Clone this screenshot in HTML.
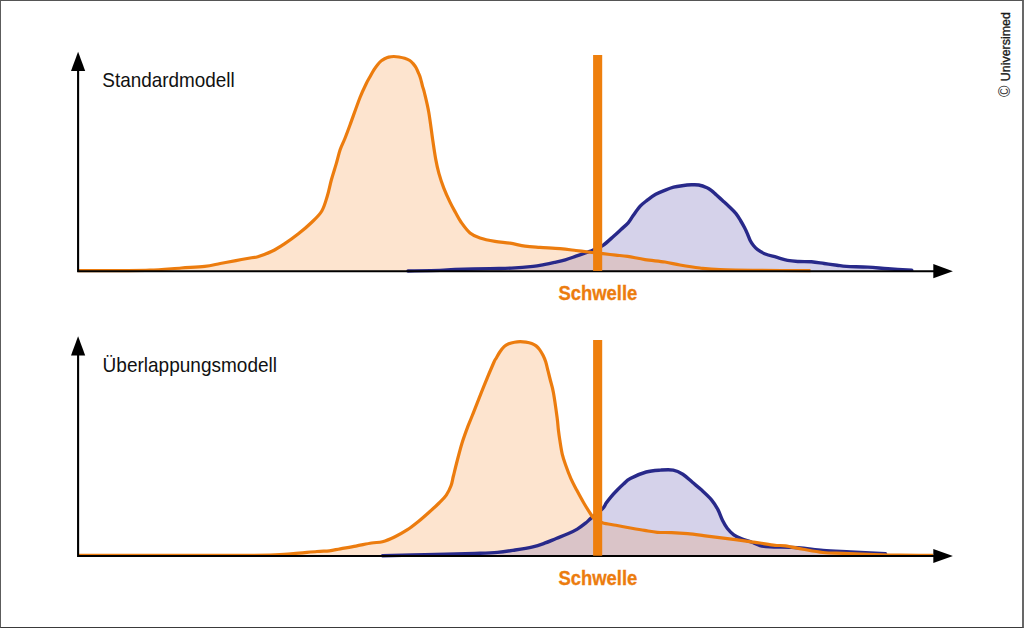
<!DOCTYPE html>
<html lang="de">
<head>
<meta charset="utf-8">
<title>Standardmodell / Überlappungsmodell</title>
<style>
  html, body { margin: 0; padding: 0; background: #ffffff; }
  body { width: 1024px; height: 628px; overflow: hidden; position: relative;
         font-family: "Liberation Sans", sans-serif; }
  .frame { position: absolute; left: 0; top: 0; width: 1024px; height: 628px;
           box-sizing: border-box;
           border-top: 1px solid #555555; border-left: 1px solid #5c5c5c;
           border-right: 2px solid #686868; border-bottom: 1px solid #3a3a3a; }
  svg { position: absolute; left: 0; top: 0; display: block; }
  text { font-family: "Liberation Sans", sans-serif; }
  .lbl { font-size: 21px; fill: #111111; }
  .thr { font-size: 19.6px; font-weight: bold; fill: #ec7c0e; stroke: #ec7c0e; stroke-width: 0.3px; }
  .cr  { font-size: 13.3px; fill: #1a1a1a; stroke: #1a1a1a; stroke-width: 0.35px; }
  .crc { font-size: 15.6px; fill: #2a2a2a; }
</style>
</head>
<body>
<svg width="1024" height="628" viewBox="0 0 1024 628">

  <!-- ================= top chart: Standardmodell ================= -->
  <g>
    <path d="M78.00,270.55 C85.00,270.55 108.00,270.61 120.00,270.55 C132.00,270.49 139.78,270.62 150.00,270.20 C160.22,269.77 172.18,268.63 181.30,268.00 C190.42,267.37 198.20,267.15 204.70,266.40 C211.20,265.65 215.10,264.47 220.30,263.50 C225.50,262.53 230.68,261.57 235.90,260.60 C241.12,259.63 247.95,258.33 251.60,257.70 C255.25,257.07 254.42,257.87 257.80,256.80 C261.18,255.73 267.47,253.45 271.90,251.30 C276.33,249.15 279.98,246.82 284.40,243.90 C288.82,240.98 293.88,237.37 298.40,233.80 C302.92,230.23 307.60,226.30 311.50,222.50 C315.40,218.70 319.15,215.47 321.80,211.00 C324.45,206.53 325.80,200.90 327.40,195.70 C329.00,190.50 329.93,185.10 331.40,179.80 C332.87,174.50 334.73,168.93 336.20,163.90 C337.67,158.87 338.75,153.83 340.20,149.60 C341.65,145.37 343.27,142.60 344.90,138.50 C346.53,134.40 347.48,131.83 350.00,125.00 C352.52,118.17 357.28,104.42 360.00,97.50 C362.72,90.58 364.58,87.05 366.30,83.50 C368.02,79.95 369.03,78.47 370.30,76.20 C371.57,73.93 372.68,71.82 373.90,69.90 C375.12,67.98 376.38,66.20 377.60,64.70 C378.82,63.20 380.03,61.90 381.20,60.90 C382.37,59.90 383.35,59.33 384.60,58.70 C385.85,58.07 387.17,57.47 388.70,57.10 C390.23,56.73 392.10,56.52 393.80,56.50 C395.50,56.48 397.08,56.70 398.90,57.00 C400.72,57.30 402.88,57.72 404.70,58.30 C406.52,58.88 408.43,59.65 409.80,60.50 C411.17,61.35 411.85,62.18 412.90,63.40 C413.95,64.62 415.13,66.12 416.10,67.80 C417.07,69.48 417.95,71.70 418.70,73.50 C419.45,75.30 419.97,76.48 420.60,78.60 C421.23,80.72 421.85,83.80 422.50,86.20 C423.15,88.60 423.45,88.62 424.50,93.00 C425.55,97.38 427.42,104.58 428.80,112.50 C430.18,120.42 431.65,132.73 432.80,140.50 C433.95,148.27 434.68,153.62 435.70,159.10 C436.72,164.58 437.57,168.62 438.90,173.40 C440.23,178.18 441.85,183.02 443.70,187.80 C445.55,192.58 448.03,197.98 450.00,202.10 C451.97,206.22 453.62,209.10 455.50,212.50 C457.38,215.90 458.88,219.08 461.30,222.50 C463.72,225.92 466.88,230.42 470.00,233.00 C473.12,235.58 475.83,236.60 480.00,238.00 C484.17,239.40 490.00,240.53 495.00,241.40 C500.00,242.27 505.00,242.42 510.00,243.20 C515.00,243.98 520.00,245.40 525.00,246.10 C530.00,246.80 534.17,246.97 540.00,247.40 C545.83,247.83 554.02,248.18 560.00,248.70 C565.98,249.22 570.60,249.87 575.90,250.50 C581.20,251.13 587.28,251.97 591.80,252.50 C596.32,253.03 599.02,253.27 603.00,253.70 C606.98,254.13 611.58,254.65 615.70,255.10 C619.82,255.55 622.82,255.65 627.70,256.40 C632.58,257.15 638.78,258.67 645.00,259.60 C651.22,260.53 659.17,261.10 665.00,262.00 C670.83,262.90 674.17,264.00 680.00,265.00 C685.83,266.00 693.33,267.22 700.00,268.00 C706.67,268.78 710.00,269.30 720.00,269.70 C730.00,270.10 744.92,270.26 760.00,270.40 C775.08,270.54 802.08,270.52 810.50,270.55 L810.50,271.20 L78.00,271.20 Z" fill="#fde4cf"/>
    <path d="M408.00,271.00 C413.33,270.90 432.17,270.65 440.00,270.40 C447.83,270.15 446.67,269.80 455.00,269.50 C463.33,269.20 480.58,268.83 490.00,268.60 C499.42,268.37 504.33,268.47 511.50,268.10 C518.67,267.73 527.62,266.98 533.00,266.40 C538.38,265.82 540.22,265.27 543.80,264.60 C547.38,263.93 550.92,263.20 554.50,262.40 C558.08,261.60 561.72,260.83 565.30,259.80 C568.88,258.77 572.42,257.43 576.00,256.20 C579.58,254.97 584.02,253.40 586.80,252.40 C589.58,251.40 590.00,251.38 592.70,250.20 C595.40,249.02 599.47,247.67 603.00,245.30 C606.53,242.93 610.90,238.63 613.90,236.00 C616.90,233.37 618.62,231.70 621.00,229.50 C623.38,227.30 626.20,225.08 628.20,222.80 C630.20,220.52 631.00,218.57 633.00,215.80 C635.00,213.03 637.82,208.80 640.20,206.20 C642.58,203.60 644.72,202.18 647.30,200.20 C649.88,198.22 652.70,195.98 655.70,194.30 C658.70,192.62 662.32,191.28 665.30,190.10 C668.28,188.92 670.82,187.93 673.60,187.20 C676.38,186.47 679.02,186.10 682.00,185.70 C684.98,185.30 688.72,184.92 691.50,184.80 C694.28,184.68 696.12,184.52 698.70,185.00 C701.28,185.48 704.87,186.77 707.00,187.70 C709.13,188.63 709.97,189.42 711.50,190.60 C713.03,191.78 714.37,193.15 716.20,194.80 C718.03,196.45 720.37,198.55 722.50,200.50 C724.63,202.45 726.78,204.35 729.00,206.50 C731.22,208.65 733.88,211.07 735.80,213.40 C737.72,215.73 739.03,218.10 740.50,220.50 C741.97,222.90 743.43,225.55 744.60,227.80 C745.77,230.05 746.57,231.88 747.50,234.00 C748.43,236.12 749.23,238.62 750.20,240.50 C751.17,242.38 752.12,243.83 753.30,245.30 C754.48,246.77 755.30,247.85 757.30,249.30 C759.30,250.75 762.12,252.68 765.30,254.00 C768.48,255.32 772.68,256.13 776.40,257.20 C780.12,258.27 783.88,259.68 787.60,260.40 C791.32,261.12 794.72,261.27 798.70,261.50 C802.68,261.73 807.25,261.47 811.50,261.80 C815.75,262.13 819.97,262.93 824.20,263.50 C828.43,264.07 833.18,264.72 836.90,265.20 C840.62,265.68 841.32,266.08 846.50,266.40 C851.68,266.72 861.08,266.70 868.00,267.10 C874.92,267.50 880.70,268.27 888.00,268.80 C895.30,269.33 907.83,270.05 911.80,270.30 L911.80,271.20 L408.00,271.20 Z" fill="#d5d2ea"/>
    <clipPath id="clipTopOrange"><path d="M78.00,270.55 C85.00,270.55 108.00,270.61 120.00,270.55 C132.00,270.49 139.78,270.62 150.00,270.20 C160.22,269.77 172.18,268.63 181.30,268.00 C190.42,267.37 198.20,267.15 204.70,266.40 C211.20,265.65 215.10,264.47 220.30,263.50 C225.50,262.53 230.68,261.57 235.90,260.60 C241.12,259.63 247.95,258.33 251.60,257.70 C255.25,257.07 254.42,257.87 257.80,256.80 C261.18,255.73 267.47,253.45 271.90,251.30 C276.33,249.15 279.98,246.82 284.40,243.90 C288.82,240.98 293.88,237.37 298.40,233.80 C302.92,230.23 307.60,226.30 311.50,222.50 C315.40,218.70 319.15,215.47 321.80,211.00 C324.45,206.53 325.80,200.90 327.40,195.70 C329.00,190.50 329.93,185.10 331.40,179.80 C332.87,174.50 334.73,168.93 336.20,163.90 C337.67,158.87 338.75,153.83 340.20,149.60 C341.65,145.37 343.27,142.60 344.90,138.50 C346.53,134.40 347.48,131.83 350.00,125.00 C352.52,118.17 357.28,104.42 360.00,97.50 C362.72,90.58 364.58,87.05 366.30,83.50 C368.02,79.95 369.03,78.47 370.30,76.20 C371.57,73.93 372.68,71.82 373.90,69.90 C375.12,67.98 376.38,66.20 377.60,64.70 C378.82,63.20 380.03,61.90 381.20,60.90 C382.37,59.90 383.35,59.33 384.60,58.70 C385.85,58.07 387.17,57.47 388.70,57.10 C390.23,56.73 392.10,56.52 393.80,56.50 C395.50,56.48 397.08,56.70 398.90,57.00 C400.72,57.30 402.88,57.72 404.70,58.30 C406.52,58.88 408.43,59.65 409.80,60.50 C411.17,61.35 411.85,62.18 412.90,63.40 C413.95,64.62 415.13,66.12 416.10,67.80 C417.07,69.48 417.95,71.70 418.70,73.50 C419.45,75.30 419.97,76.48 420.60,78.60 C421.23,80.72 421.85,83.80 422.50,86.20 C423.15,88.60 423.45,88.62 424.50,93.00 C425.55,97.38 427.42,104.58 428.80,112.50 C430.18,120.42 431.65,132.73 432.80,140.50 C433.95,148.27 434.68,153.62 435.70,159.10 C436.72,164.58 437.57,168.62 438.90,173.40 C440.23,178.18 441.85,183.02 443.70,187.80 C445.55,192.58 448.03,197.98 450.00,202.10 C451.97,206.22 453.62,209.10 455.50,212.50 C457.38,215.90 458.88,219.08 461.30,222.50 C463.72,225.92 466.88,230.42 470.00,233.00 C473.12,235.58 475.83,236.60 480.00,238.00 C484.17,239.40 490.00,240.53 495.00,241.40 C500.00,242.27 505.00,242.42 510.00,243.20 C515.00,243.98 520.00,245.40 525.00,246.10 C530.00,246.80 534.17,246.97 540.00,247.40 C545.83,247.83 554.02,248.18 560.00,248.70 C565.98,249.22 570.60,249.87 575.90,250.50 C581.20,251.13 587.28,251.97 591.80,252.50 C596.32,253.03 599.02,253.27 603.00,253.70 C606.98,254.13 611.58,254.65 615.70,255.10 C619.82,255.55 622.82,255.65 627.70,256.40 C632.58,257.15 638.78,258.67 645.00,259.60 C651.22,260.53 659.17,261.10 665.00,262.00 C670.83,262.90 674.17,264.00 680.00,265.00 C685.83,266.00 693.33,267.22 700.00,268.00 C706.67,268.78 710.00,269.30 720.00,269.70 C730.00,270.10 744.92,270.26 760.00,270.40 C775.08,270.54 802.08,270.52 810.50,270.55 L810.50,271.20 L78.00,271.20 Z"/></clipPath>
    <path d="M408.00,271.00 C413.33,270.90 432.17,270.65 440.00,270.40 C447.83,270.15 446.67,269.80 455.00,269.50 C463.33,269.20 480.58,268.83 490.00,268.60 C499.42,268.37 504.33,268.47 511.50,268.10 C518.67,267.73 527.62,266.98 533.00,266.40 C538.38,265.82 540.22,265.27 543.80,264.60 C547.38,263.93 550.92,263.20 554.50,262.40 C558.08,261.60 561.72,260.83 565.30,259.80 C568.88,258.77 572.42,257.43 576.00,256.20 C579.58,254.97 584.02,253.40 586.80,252.40 C589.58,251.40 590.00,251.38 592.70,250.20 C595.40,249.02 599.47,247.67 603.00,245.30 C606.53,242.93 610.90,238.63 613.90,236.00 C616.90,233.37 618.62,231.70 621.00,229.50 C623.38,227.30 626.20,225.08 628.20,222.80 C630.20,220.52 631.00,218.57 633.00,215.80 C635.00,213.03 637.82,208.80 640.20,206.20 C642.58,203.60 644.72,202.18 647.30,200.20 C649.88,198.22 652.70,195.98 655.70,194.30 C658.70,192.62 662.32,191.28 665.30,190.10 C668.28,188.92 670.82,187.93 673.60,187.20 C676.38,186.47 679.02,186.10 682.00,185.70 C684.98,185.30 688.72,184.92 691.50,184.80 C694.28,184.68 696.12,184.52 698.70,185.00 C701.28,185.48 704.87,186.77 707.00,187.70 C709.13,188.63 709.97,189.42 711.50,190.60 C713.03,191.78 714.37,193.15 716.20,194.80 C718.03,196.45 720.37,198.55 722.50,200.50 C724.63,202.45 726.78,204.35 729.00,206.50 C731.22,208.65 733.88,211.07 735.80,213.40 C737.72,215.73 739.03,218.10 740.50,220.50 C741.97,222.90 743.43,225.55 744.60,227.80 C745.77,230.05 746.57,231.88 747.50,234.00 C748.43,236.12 749.23,238.62 750.20,240.50 C751.17,242.38 752.12,243.83 753.30,245.30 C754.48,246.77 755.30,247.85 757.30,249.30 C759.30,250.75 762.12,252.68 765.30,254.00 C768.48,255.32 772.68,256.13 776.40,257.20 C780.12,258.27 783.88,259.68 787.60,260.40 C791.32,261.12 794.72,261.27 798.70,261.50 C802.68,261.73 807.25,261.47 811.50,261.80 C815.75,262.13 819.97,262.93 824.20,263.50 C828.43,264.07 833.18,264.72 836.90,265.20 C840.62,265.68 841.32,266.08 846.50,266.40 C851.68,266.72 861.08,266.70 868.00,267.10 C874.92,267.50 880.70,268.27 888.00,268.80 C895.30,269.33 907.83,270.05 911.80,270.30 L911.80,271.20 L408.00,271.20 Z" fill="#dac4c8" clip-path="url(#clipTopOrange)"/>
    <path d="M408.00,271.00 C413.33,270.90 432.17,270.65 440.00,270.40 C447.83,270.15 446.67,269.80 455.00,269.50 C463.33,269.20 480.58,268.83 490.00,268.60 C499.42,268.37 504.33,268.47 511.50,268.10 C518.67,267.73 527.62,266.98 533.00,266.40 C538.38,265.82 540.22,265.27 543.80,264.60 C547.38,263.93 550.92,263.20 554.50,262.40 C558.08,261.60 561.72,260.83 565.30,259.80 C568.88,258.77 572.42,257.43 576.00,256.20 C579.58,254.97 584.02,253.40 586.80,252.40 C589.58,251.40 590.00,251.38 592.70,250.20 C595.40,249.02 599.47,247.67 603.00,245.30 C606.53,242.93 610.90,238.63 613.90,236.00 C616.90,233.37 618.62,231.70 621.00,229.50 C623.38,227.30 626.20,225.08 628.20,222.80 C630.20,220.52 631.00,218.57 633.00,215.80 C635.00,213.03 637.82,208.80 640.20,206.20 C642.58,203.60 644.72,202.18 647.30,200.20 C649.88,198.22 652.70,195.98 655.70,194.30 C658.70,192.62 662.32,191.28 665.30,190.10 C668.28,188.92 670.82,187.93 673.60,187.20 C676.38,186.47 679.02,186.10 682.00,185.70 C684.98,185.30 688.72,184.92 691.50,184.80 C694.28,184.68 696.12,184.52 698.70,185.00 C701.28,185.48 704.87,186.77 707.00,187.70 C709.13,188.63 709.97,189.42 711.50,190.60 C713.03,191.78 714.37,193.15 716.20,194.80 C718.03,196.45 720.37,198.55 722.50,200.50 C724.63,202.45 726.78,204.35 729.00,206.50 C731.22,208.65 733.88,211.07 735.80,213.40 C737.72,215.73 739.03,218.10 740.50,220.50 C741.97,222.90 743.43,225.55 744.60,227.80 C745.77,230.05 746.57,231.88 747.50,234.00 C748.43,236.12 749.23,238.62 750.20,240.50 C751.17,242.38 752.12,243.83 753.30,245.30 C754.48,246.77 755.30,247.85 757.30,249.30 C759.30,250.75 762.12,252.68 765.30,254.00 C768.48,255.32 772.68,256.13 776.40,257.20 C780.12,258.27 783.88,259.68 787.60,260.40 C791.32,261.12 794.72,261.27 798.70,261.50 C802.68,261.73 807.25,261.47 811.50,261.80 C815.75,262.13 819.97,262.93 824.20,263.50 C828.43,264.07 833.18,264.72 836.90,265.20 C840.62,265.68 841.32,266.08 846.50,266.40 C851.68,266.72 861.08,266.70 868.00,267.10 C874.92,267.50 880.70,268.27 888.00,268.80 C895.30,269.33 907.83,270.05 911.80,270.30" fill="none" stroke="#28298a" stroke-width="3.4" stroke-linejoin="round" stroke-linecap="round"/>
    <path d="M78.00,270.55 C85.00,270.55 108.00,270.61 120.00,270.55 C132.00,270.49 139.78,270.62 150.00,270.20 C160.22,269.77 172.18,268.63 181.30,268.00 C190.42,267.37 198.20,267.15 204.70,266.40 C211.20,265.65 215.10,264.47 220.30,263.50 C225.50,262.53 230.68,261.57 235.90,260.60 C241.12,259.63 247.95,258.33 251.60,257.70 C255.25,257.07 254.42,257.87 257.80,256.80 C261.18,255.73 267.47,253.45 271.90,251.30 C276.33,249.15 279.98,246.82 284.40,243.90 C288.82,240.98 293.88,237.37 298.40,233.80 C302.92,230.23 307.60,226.30 311.50,222.50 C315.40,218.70 319.15,215.47 321.80,211.00 C324.45,206.53 325.80,200.90 327.40,195.70 C329.00,190.50 329.93,185.10 331.40,179.80 C332.87,174.50 334.73,168.93 336.20,163.90 C337.67,158.87 338.75,153.83 340.20,149.60 C341.65,145.37 343.27,142.60 344.90,138.50 C346.53,134.40 347.48,131.83 350.00,125.00 C352.52,118.17 357.28,104.42 360.00,97.50 C362.72,90.58 364.58,87.05 366.30,83.50 C368.02,79.95 369.03,78.47 370.30,76.20 C371.57,73.93 372.68,71.82 373.90,69.90 C375.12,67.98 376.38,66.20 377.60,64.70 C378.82,63.20 380.03,61.90 381.20,60.90 C382.37,59.90 383.35,59.33 384.60,58.70 C385.85,58.07 387.17,57.47 388.70,57.10 C390.23,56.73 392.10,56.52 393.80,56.50 C395.50,56.48 397.08,56.70 398.90,57.00 C400.72,57.30 402.88,57.72 404.70,58.30 C406.52,58.88 408.43,59.65 409.80,60.50 C411.17,61.35 411.85,62.18 412.90,63.40 C413.95,64.62 415.13,66.12 416.10,67.80 C417.07,69.48 417.95,71.70 418.70,73.50 C419.45,75.30 419.97,76.48 420.60,78.60 C421.23,80.72 421.85,83.80 422.50,86.20 C423.15,88.60 423.45,88.62 424.50,93.00 C425.55,97.38 427.42,104.58 428.80,112.50 C430.18,120.42 431.65,132.73 432.80,140.50 C433.95,148.27 434.68,153.62 435.70,159.10 C436.72,164.58 437.57,168.62 438.90,173.40 C440.23,178.18 441.85,183.02 443.70,187.80 C445.55,192.58 448.03,197.98 450.00,202.10 C451.97,206.22 453.62,209.10 455.50,212.50 C457.38,215.90 458.88,219.08 461.30,222.50 C463.72,225.92 466.88,230.42 470.00,233.00 C473.12,235.58 475.83,236.60 480.00,238.00 C484.17,239.40 490.00,240.53 495.00,241.40 C500.00,242.27 505.00,242.42 510.00,243.20 C515.00,243.98 520.00,245.40 525.00,246.10 C530.00,246.80 534.17,246.97 540.00,247.40 C545.83,247.83 554.02,248.18 560.00,248.70 C565.98,249.22 570.60,249.87 575.90,250.50 C581.20,251.13 587.28,251.97 591.80,252.50 C596.32,253.03 599.02,253.27 603.00,253.70 C606.98,254.13 611.58,254.65 615.70,255.10 C619.82,255.55 622.82,255.65 627.70,256.40 C632.58,257.15 638.78,258.67 645.00,259.60 C651.22,260.53 659.17,261.10 665.00,262.00 C670.83,262.90 674.17,264.00 680.00,265.00 C685.83,266.00 693.33,267.22 700.00,268.00 C706.67,268.78 710.00,269.30 720.00,269.70 C730.00,270.10 744.92,270.26 760.00,270.40 C775.08,270.54 802.08,270.52 810.50,270.55" fill="none" stroke="#ec7c0e" stroke-width="3.2" stroke-linejoin="round" stroke-linecap="butt"/>
    <!-- axes -->
    <path d="M78.1,68 L78.1,271.2 L935,271.2" fill="none" stroke="#000" stroke-width="2.1" stroke-linejoin="miter"/>
    <path d="M78.1,51.8 L85.2,71.1 L71,71.1 Z" fill="#000"/>
    <path d="M952.9,271.20 L933.3,264.05 L933.3,278.35 Z" fill="#000"/>
    <rect x="593.1" y="55" width="9.1" height="215.9" fill="#ee7f0d"/>
    <text class="lbl" x="102.3" y="87.3" textLength="132.4" lengthAdjust="spacingAndGlyphs">Standardmodell</text>
    <text class="thr" x="558.4" y="299.9" textLength="79" lengthAdjust="spacingAndGlyphs">Schwelle</text>
  </g>

  <!-- ================= bottom chart: Überlappungsmodell ================= -->
  <g>
    <path d="M78.00,555.35 C98.33,555.35 168.00,555.39 200.00,555.35 C232.00,555.31 254.43,555.39 270.00,555.10 C285.57,554.81 285.58,554.20 293.40,553.60 C301.22,553.00 310.90,551.97 316.90,551.50 C322.90,551.03 325.50,551.25 329.40,550.80 C333.30,550.35 335.88,549.58 340.30,548.80 C344.72,548.02 350.68,547.07 355.90,546.10 C361.12,545.13 367.17,543.73 371.60,543.00 C376.03,542.27 378.60,542.75 382.50,541.70 C386.40,540.65 390.83,538.70 395.00,536.70 C399.17,534.70 403.60,532.23 407.50,529.70 C411.40,527.17 414.72,524.48 418.40,521.50 C422.08,518.52 426.15,514.88 429.60,511.80 C433.05,508.72 436.32,505.78 439.10,503.00 C441.88,500.22 444.30,498.02 446.30,495.10 C448.30,492.18 449.92,488.68 451.10,485.50 C452.28,482.32 452.35,480.25 453.40,476.00 C454.45,471.75 455.93,465.58 457.40,460.00 C458.87,454.42 460.47,448.07 462.20,442.50 C463.93,436.93 466.08,431.18 467.80,426.60 C469.52,422.02 469.83,421.72 472.50,415.00 C475.17,408.28 480.25,395.05 483.80,386.30 C487.35,377.55 491.77,367.13 493.80,362.50 C495.83,357.87 495.00,360.25 496.00,358.50 C497.00,356.75 498.45,353.98 499.80,352.00 C501.15,350.02 502.62,347.97 504.10,346.60 C505.58,345.23 506.97,344.53 508.70,343.80 C510.43,343.07 512.58,342.55 514.50,342.20 C516.42,341.85 518.30,341.70 520.20,341.70 C522.10,341.70 523.98,341.88 525.90,342.20 C527.82,342.52 530.00,342.98 531.70,343.60 C533.40,344.22 534.78,344.90 536.10,345.90 C537.42,346.90 538.45,348.03 539.60,349.60 C540.75,351.17 541.98,353.28 543.00,355.30 C544.02,357.32 544.85,359.05 545.70,361.70 C546.55,364.35 547.33,368.15 548.10,371.20 C548.87,374.25 549.42,376.45 550.30,380.00 C551.18,383.55 552.27,386.25 553.40,392.50 C554.53,398.75 556.27,411.25 557.10,417.50 C557.93,423.75 557.95,426.25 558.40,430.00 C558.85,433.75 559.15,435.95 559.80,440.00 C560.45,444.05 561.28,450.00 562.30,454.30 C563.32,458.60 564.47,461.73 565.90,465.80 C567.33,469.87 569.10,474.65 570.90,478.70 C572.70,482.75 574.55,486.05 576.70,490.10 C578.85,494.15 581.42,498.93 583.80,503.00 C586.18,507.07 589.33,511.98 591.00,514.50 C592.67,517.02 591.90,516.73 593.80,518.10 C595.70,519.47 598.72,521.50 602.40,522.70 C606.08,523.90 611.00,524.38 615.90,525.30 C620.80,526.22 627.02,527.35 631.80,528.20 C636.58,529.05 640.35,529.72 644.60,530.40 C648.85,531.08 652.78,531.93 657.30,532.30 C661.82,532.67 666.65,532.37 671.70,532.60 C676.75,532.83 682.30,533.20 687.60,533.70 C692.90,534.20 698.20,534.93 703.50,535.60 C708.80,536.27 714.08,537.02 719.40,537.70 C724.72,538.38 730.08,539.02 735.40,539.70 C740.72,540.38 747.20,541.25 751.30,541.80 C755.40,542.35 756.05,542.42 760.00,543.00 C763.95,543.58 770.75,544.83 775.00,545.30 C779.25,545.77 780.83,545.15 785.50,545.80 C790.17,546.45 796.75,548.08 803.00,549.20 C809.25,550.32 816.33,551.80 823.00,552.50 C829.67,553.20 835.50,553.10 843.00,553.40 C850.50,553.70 858.50,554.00 868.00,554.30 C877.50,554.60 889.17,555.03 900.00,555.20 C910.83,555.38 927.50,555.33 933.00,555.35 L933.00,556.00 L78.00,556.00 Z" fill="#fde4cf"/>
    <path d="M382.50,555.80 C389.58,555.62 409.58,555.10 425.00,554.70 C440.42,554.30 462.90,553.78 475.00,553.40 C487.10,553.02 490.90,552.97 497.60,552.40 C504.30,551.83 509.33,550.93 515.20,550.00 C521.07,549.07 527.92,547.93 532.80,546.80 C537.68,545.67 540.60,544.58 544.50,543.20 C548.40,541.82 552.30,540.07 556.20,538.50 C560.10,536.93 564.38,535.37 567.90,533.80 C571.42,532.23 574.37,530.87 577.30,529.10 C580.23,527.33 583.15,525.07 585.50,523.20 C587.85,521.33 588.58,520.28 591.40,517.90 C594.22,515.52 599.93,511.37 602.40,508.90 C604.87,506.43 604.77,505.12 606.20,503.10 C607.63,501.08 609.15,498.98 611.00,496.80 C612.85,494.62 615.22,492.13 617.30,490.00 C619.38,487.87 621.33,485.92 623.50,484.00 C625.67,482.08 626.52,480.50 630.30,478.50 C634.08,476.50 641.17,473.40 646.20,472.00 C651.23,470.60 656.00,470.42 660.50,470.10 C665.00,469.78 669.48,469.40 673.20,470.10 C676.92,470.80 679.60,472.27 682.80,474.30 C686.00,476.33 689.22,479.63 692.40,482.30 C695.58,484.97 698.72,487.38 701.90,490.30 C705.08,493.22 708.85,496.62 711.50,499.80 C714.15,502.98 715.95,505.95 717.80,509.40 C719.65,512.85 721.00,517.32 722.60,520.50 C724.20,523.68 725.53,526.12 727.40,528.50 C729.27,530.88 731.42,533.08 733.80,534.80 C736.18,536.52 738.78,537.60 741.70,538.80 C744.62,540.00 748.25,540.87 751.30,542.00 C754.35,543.13 756.88,544.78 760.00,545.60 C763.12,546.42 763.67,546.55 770.00,546.90 C776.33,547.25 789.17,547.10 798.00,547.70 C806.83,548.30 814.25,549.78 823.00,550.50 C831.75,551.22 840.08,551.45 850.50,552.00 C860.92,552.55 879.67,553.50 885.50,553.80 L885.50,556.00 L382.50,556.00 Z" fill="#d5d2ea"/>
    <clipPath id="clipBotOrange"><path d="M78.00,555.35 C98.33,555.35 168.00,555.39 200.00,555.35 C232.00,555.31 254.43,555.39 270.00,555.10 C285.57,554.81 285.58,554.20 293.40,553.60 C301.22,553.00 310.90,551.97 316.90,551.50 C322.90,551.03 325.50,551.25 329.40,550.80 C333.30,550.35 335.88,549.58 340.30,548.80 C344.72,548.02 350.68,547.07 355.90,546.10 C361.12,545.13 367.17,543.73 371.60,543.00 C376.03,542.27 378.60,542.75 382.50,541.70 C386.40,540.65 390.83,538.70 395.00,536.70 C399.17,534.70 403.60,532.23 407.50,529.70 C411.40,527.17 414.72,524.48 418.40,521.50 C422.08,518.52 426.15,514.88 429.60,511.80 C433.05,508.72 436.32,505.78 439.10,503.00 C441.88,500.22 444.30,498.02 446.30,495.10 C448.30,492.18 449.92,488.68 451.10,485.50 C452.28,482.32 452.35,480.25 453.40,476.00 C454.45,471.75 455.93,465.58 457.40,460.00 C458.87,454.42 460.47,448.07 462.20,442.50 C463.93,436.93 466.08,431.18 467.80,426.60 C469.52,422.02 469.83,421.72 472.50,415.00 C475.17,408.28 480.25,395.05 483.80,386.30 C487.35,377.55 491.77,367.13 493.80,362.50 C495.83,357.87 495.00,360.25 496.00,358.50 C497.00,356.75 498.45,353.98 499.80,352.00 C501.15,350.02 502.62,347.97 504.10,346.60 C505.58,345.23 506.97,344.53 508.70,343.80 C510.43,343.07 512.58,342.55 514.50,342.20 C516.42,341.85 518.30,341.70 520.20,341.70 C522.10,341.70 523.98,341.88 525.90,342.20 C527.82,342.52 530.00,342.98 531.70,343.60 C533.40,344.22 534.78,344.90 536.10,345.90 C537.42,346.90 538.45,348.03 539.60,349.60 C540.75,351.17 541.98,353.28 543.00,355.30 C544.02,357.32 544.85,359.05 545.70,361.70 C546.55,364.35 547.33,368.15 548.10,371.20 C548.87,374.25 549.42,376.45 550.30,380.00 C551.18,383.55 552.27,386.25 553.40,392.50 C554.53,398.75 556.27,411.25 557.10,417.50 C557.93,423.75 557.95,426.25 558.40,430.00 C558.85,433.75 559.15,435.95 559.80,440.00 C560.45,444.05 561.28,450.00 562.30,454.30 C563.32,458.60 564.47,461.73 565.90,465.80 C567.33,469.87 569.10,474.65 570.90,478.70 C572.70,482.75 574.55,486.05 576.70,490.10 C578.85,494.15 581.42,498.93 583.80,503.00 C586.18,507.07 589.33,511.98 591.00,514.50 C592.67,517.02 591.90,516.73 593.80,518.10 C595.70,519.47 598.72,521.50 602.40,522.70 C606.08,523.90 611.00,524.38 615.90,525.30 C620.80,526.22 627.02,527.35 631.80,528.20 C636.58,529.05 640.35,529.72 644.60,530.40 C648.85,531.08 652.78,531.93 657.30,532.30 C661.82,532.67 666.65,532.37 671.70,532.60 C676.75,532.83 682.30,533.20 687.60,533.70 C692.90,534.20 698.20,534.93 703.50,535.60 C708.80,536.27 714.08,537.02 719.40,537.70 C724.72,538.38 730.08,539.02 735.40,539.70 C740.72,540.38 747.20,541.25 751.30,541.80 C755.40,542.35 756.05,542.42 760.00,543.00 C763.95,543.58 770.75,544.83 775.00,545.30 C779.25,545.77 780.83,545.15 785.50,545.80 C790.17,546.45 796.75,548.08 803.00,549.20 C809.25,550.32 816.33,551.80 823.00,552.50 C829.67,553.20 835.50,553.10 843.00,553.40 C850.50,553.70 858.50,554.00 868.00,554.30 C877.50,554.60 889.17,555.03 900.00,555.20 C910.83,555.38 927.50,555.33 933.00,555.35 L933.00,556.00 L78.00,556.00 Z"/></clipPath>
    <path d="M382.50,555.80 C389.58,555.62 409.58,555.10 425.00,554.70 C440.42,554.30 462.90,553.78 475.00,553.40 C487.10,553.02 490.90,552.97 497.60,552.40 C504.30,551.83 509.33,550.93 515.20,550.00 C521.07,549.07 527.92,547.93 532.80,546.80 C537.68,545.67 540.60,544.58 544.50,543.20 C548.40,541.82 552.30,540.07 556.20,538.50 C560.10,536.93 564.38,535.37 567.90,533.80 C571.42,532.23 574.37,530.87 577.30,529.10 C580.23,527.33 583.15,525.07 585.50,523.20 C587.85,521.33 588.58,520.28 591.40,517.90 C594.22,515.52 599.93,511.37 602.40,508.90 C604.87,506.43 604.77,505.12 606.20,503.10 C607.63,501.08 609.15,498.98 611.00,496.80 C612.85,494.62 615.22,492.13 617.30,490.00 C619.38,487.87 621.33,485.92 623.50,484.00 C625.67,482.08 626.52,480.50 630.30,478.50 C634.08,476.50 641.17,473.40 646.20,472.00 C651.23,470.60 656.00,470.42 660.50,470.10 C665.00,469.78 669.48,469.40 673.20,470.10 C676.92,470.80 679.60,472.27 682.80,474.30 C686.00,476.33 689.22,479.63 692.40,482.30 C695.58,484.97 698.72,487.38 701.90,490.30 C705.08,493.22 708.85,496.62 711.50,499.80 C714.15,502.98 715.95,505.95 717.80,509.40 C719.65,512.85 721.00,517.32 722.60,520.50 C724.20,523.68 725.53,526.12 727.40,528.50 C729.27,530.88 731.42,533.08 733.80,534.80 C736.18,536.52 738.78,537.60 741.70,538.80 C744.62,540.00 748.25,540.87 751.30,542.00 C754.35,543.13 756.88,544.78 760.00,545.60 C763.12,546.42 763.67,546.55 770.00,546.90 C776.33,547.25 789.17,547.10 798.00,547.70 C806.83,548.30 814.25,549.78 823.00,550.50 C831.75,551.22 840.08,551.45 850.50,552.00 C860.92,552.55 879.67,553.50 885.50,553.80 L885.50,556.00 L382.50,556.00 Z" fill="#dac4c8" clip-path="url(#clipBotOrange)"/>
    <path d="M382.50,555.80 C389.58,555.62 409.58,555.10 425.00,554.70 C440.42,554.30 462.90,553.78 475.00,553.40 C487.10,553.02 490.90,552.97 497.60,552.40 C504.30,551.83 509.33,550.93 515.20,550.00 C521.07,549.07 527.92,547.93 532.80,546.80 C537.68,545.67 540.60,544.58 544.50,543.20 C548.40,541.82 552.30,540.07 556.20,538.50 C560.10,536.93 564.38,535.37 567.90,533.80 C571.42,532.23 574.37,530.87 577.30,529.10 C580.23,527.33 583.15,525.07 585.50,523.20 C587.85,521.33 588.58,520.28 591.40,517.90 C594.22,515.52 599.93,511.37 602.40,508.90 C604.87,506.43 604.77,505.12 606.20,503.10 C607.63,501.08 609.15,498.98 611.00,496.80 C612.85,494.62 615.22,492.13 617.30,490.00 C619.38,487.87 621.33,485.92 623.50,484.00 C625.67,482.08 626.52,480.50 630.30,478.50 C634.08,476.50 641.17,473.40 646.20,472.00 C651.23,470.60 656.00,470.42 660.50,470.10 C665.00,469.78 669.48,469.40 673.20,470.10 C676.92,470.80 679.60,472.27 682.80,474.30 C686.00,476.33 689.22,479.63 692.40,482.30 C695.58,484.97 698.72,487.38 701.90,490.30 C705.08,493.22 708.85,496.62 711.50,499.80 C714.15,502.98 715.95,505.95 717.80,509.40 C719.65,512.85 721.00,517.32 722.60,520.50 C724.20,523.68 725.53,526.12 727.40,528.50 C729.27,530.88 731.42,533.08 733.80,534.80 C736.18,536.52 738.78,537.60 741.70,538.80 C744.62,540.00 748.25,540.87 751.30,542.00 C754.35,543.13 756.88,544.78 760.00,545.60 C763.12,546.42 763.67,546.55 770.00,546.90 C776.33,547.25 789.17,547.10 798.00,547.70 C806.83,548.30 814.25,549.78 823.00,550.50 C831.75,551.22 840.08,551.45 850.50,552.00 C860.92,552.55 879.67,553.50 885.50,553.80" fill="none" stroke="#28298a" stroke-width="3.4" stroke-linejoin="round" stroke-linecap="round"/>
    <path d="M78.00,555.35 C98.33,555.35 168.00,555.39 200.00,555.35 C232.00,555.31 254.43,555.39 270.00,555.10 C285.57,554.81 285.58,554.20 293.40,553.60 C301.22,553.00 310.90,551.97 316.90,551.50 C322.90,551.03 325.50,551.25 329.40,550.80 C333.30,550.35 335.88,549.58 340.30,548.80 C344.72,548.02 350.68,547.07 355.90,546.10 C361.12,545.13 367.17,543.73 371.60,543.00 C376.03,542.27 378.60,542.75 382.50,541.70 C386.40,540.65 390.83,538.70 395.00,536.70 C399.17,534.70 403.60,532.23 407.50,529.70 C411.40,527.17 414.72,524.48 418.40,521.50 C422.08,518.52 426.15,514.88 429.60,511.80 C433.05,508.72 436.32,505.78 439.10,503.00 C441.88,500.22 444.30,498.02 446.30,495.10 C448.30,492.18 449.92,488.68 451.10,485.50 C452.28,482.32 452.35,480.25 453.40,476.00 C454.45,471.75 455.93,465.58 457.40,460.00 C458.87,454.42 460.47,448.07 462.20,442.50 C463.93,436.93 466.08,431.18 467.80,426.60 C469.52,422.02 469.83,421.72 472.50,415.00 C475.17,408.28 480.25,395.05 483.80,386.30 C487.35,377.55 491.77,367.13 493.80,362.50 C495.83,357.87 495.00,360.25 496.00,358.50 C497.00,356.75 498.45,353.98 499.80,352.00 C501.15,350.02 502.62,347.97 504.10,346.60 C505.58,345.23 506.97,344.53 508.70,343.80 C510.43,343.07 512.58,342.55 514.50,342.20 C516.42,341.85 518.30,341.70 520.20,341.70 C522.10,341.70 523.98,341.88 525.90,342.20 C527.82,342.52 530.00,342.98 531.70,343.60 C533.40,344.22 534.78,344.90 536.10,345.90 C537.42,346.90 538.45,348.03 539.60,349.60 C540.75,351.17 541.98,353.28 543.00,355.30 C544.02,357.32 544.85,359.05 545.70,361.70 C546.55,364.35 547.33,368.15 548.10,371.20 C548.87,374.25 549.42,376.45 550.30,380.00 C551.18,383.55 552.27,386.25 553.40,392.50 C554.53,398.75 556.27,411.25 557.10,417.50 C557.93,423.75 557.95,426.25 558.40,430.00 C558.85,433.75 559.15,435.95 559.80,440.00 C560.45,444.05 561.28,450.00 562.30,454.30 C563.32,458.60 564.47,461.73 565.90,465.80 C567.33,469.87 569.10,474.65 570.90,478.70 C572.70,482.75 574.55,486.05 576.70,490.10 C578.85,494.15 581.42,498.93 583.80,503.00 C586.18,507.07 589.33,511.98 591.00,514.50 C592.67,517.02 591.90,516.73 593.80,518.10 C595.70,519.47 598.72,521.50 602.40,522.70 C606.08,523.90 611.00,524.38 615.90,525.30 C620.80,526.22 627.02,527.35 631.80,528.20 C636.58,529.05 640.35,529.72 644.60,530.40 C648.85,531.08 652.78,531.93 657.30,532.30 C661.82,532.67 666.65,532.37 671.70,532.60 C676.75,532.83 682.30,533.20 687.60,533.70 C692.90,534.20 698.20,534.93 703.50,535.60 C708.80,536.27 714.08,537.02 719.40,537.70 C724.72,538.38 730.08,539.02 735.40,539.70 C740.72,540.38 747.20,541.25 751.30,541.80 C755.40,542.35 756.05,542.42 760.00,543.00 C763.95,543.58 770.75,544.83 775.00,545.30 C779.25,545.77 780.83,545.15 785.50,545.80 C790.17,546.45 796.75,548.08 803.00,549.20 C809.25,550.32 816.33,551.80 823.00,552.50 C829.67,553.20 835.50,553.10 843.00,553.40 C850.50,553.70 858.50,554.00 868.00,554.30 C877.50,554.60 889.17,555.03 900.00,555.20 C910.83,555.38 927.50,555.33 933.00,555.35" fill="none" stroke="#ec7c0e" stroke-width="3.2" stroke-linejoin="round" stroke-linecap="butt"/>
    <path d="M78.1,352 L78.1,556.0 L935,556.0" fill="none" stroke="#000" stroke-width="2.1" stroke-linejoin="miter"/>
    <path d="M78.1,336.2 L85.2,355.5 L71,355.5 Z" fill="#000"/>
    <path d="M952.9,556.00 L933.3,548.90 L933.3,563.10 Z" fill="#000"/>
    <rect x="593.1" y="340" width="9.1" height="215.7" fill="#ee7f0d"/>
    <text class="lbl" x="102.6" y="371.5" textLength="174.4" lengthAdjust="spacingAndGlyphs">Überlappungsmodell</text>
    <text class="thr" x="558.4" y="584.5" textLength="79" lengthAdjust="spacingAndGlyphs">Schwelle</text>
  </g>

  <!-- copyright, rotated -->
  <text class="crc" transform="translate(1010.2,96.9) rotate(-90)">©</text>
  <text class="cr" transform="translate(1010.3,81.2) rotate(-90)" textLength="69.1" lengthAdjust="spacingAndGlyphs">Universimed</text>
</svg>
<div class="frame"></div>
</body>
</html>
